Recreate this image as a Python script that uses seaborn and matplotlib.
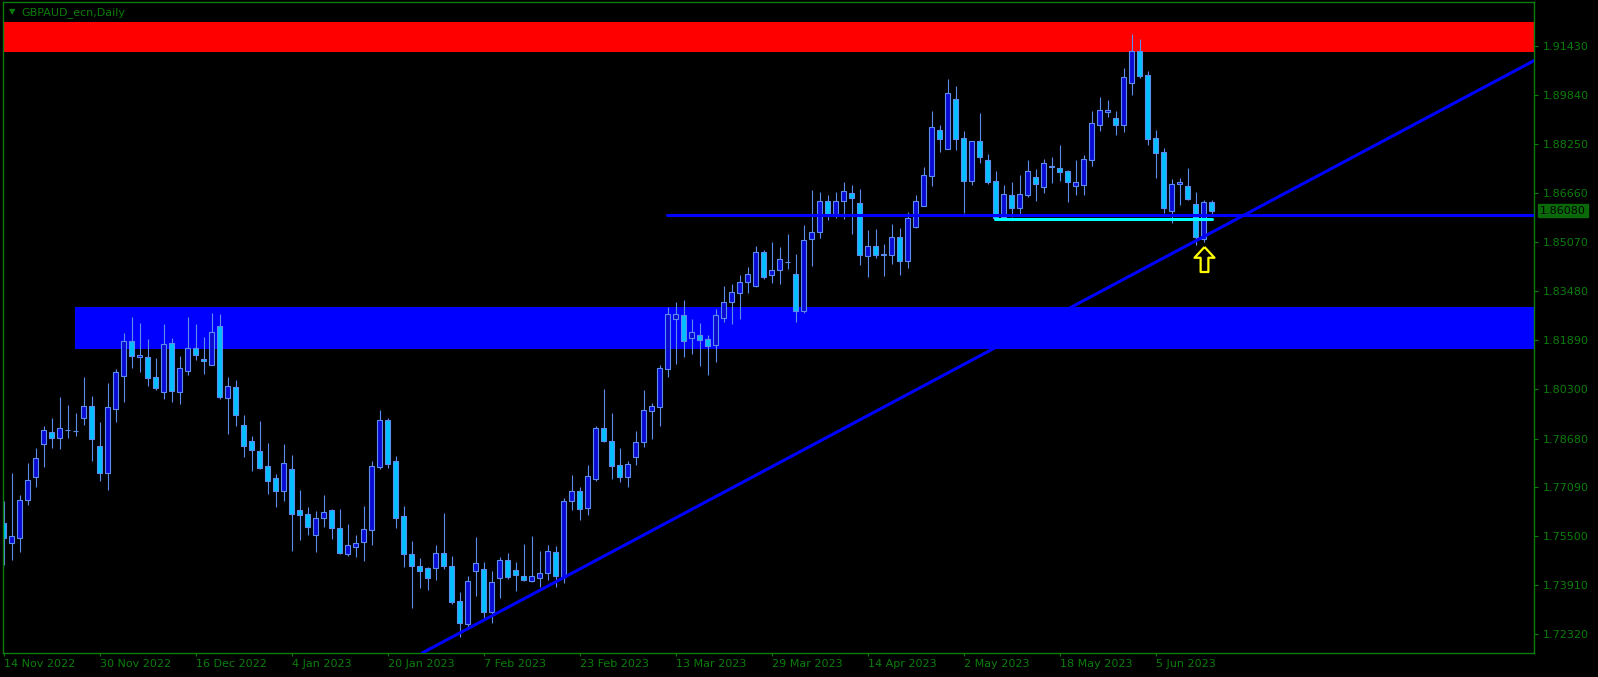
import numpy as np
import pandas as pd
import seaborn as sns
import matplotlib.pyplot as plt
from matplotlib.path import Path

# GBPAUD daily candles, 14 Nov 2022 .. mid Jun 2023
opens = [1.7592, 1.7527, 1.7546, 1.7669, 1.7744, 1.7851, 1.7888, 1.7871, 1.7895, 1.7891,
         1.7936, 1.7973, 1.7843, 1.7757, 1.7965, 1.8072, 1.8184, 1.8134, 1.8132, 1.8067,
         1.8020, 1.8180, 1.8020, 1.8088, 1.8161, 1.8125, 1.8108, 1.8232, 1.8001, 1.8034,
         1.7911, 1.7859, 1.7826, 1.7778, 1.7739, 1.7699, 1.7768, 1.7635, 1.7622, 1.7556,
         1.7611, 1.7635, 1.7576, 1.7494, 1.7517, 1.7533, 1.7572, 1.7777, 1.7927, 1.7794,
         1.7617, 1.7492, 1.7453, 1.7447, 1.7447, 1.7495, 1.7453, 1.7339, 1.7264, 1.7437,
         1.7443, 1.7306, 1.7414, 1.7473, 1.7441, 1.7421, 1.7404, 1.7416, 1.7430, 1.7499,
         1.7418, 1.7664, 1.7697, 1.7642, 1.7738, 1.7901, 1.7860, 1.7781, 1.7744, 1.7809,
         1.7856, 1.7959, 1.7972, 1.8095, 1.8257, 1.8268, 1.8195, 1.8206, 1.8190, 1.8173,
         1.8260, 1.8312, 1.8341, 1.8377, 1.8363, 1.8473, 1.8398, 1.8417, 1.8440, 1.8404,
         1.8283, 1.8515, 1.8538, 1.8641, 1.8596, 1.8641, 1.8665, 1.8632, 1.8460, 1.8495,
         1.8467, 1.8465, 1.8524, 1.8445, 1.8556, 1.8625, 1.8722, 1.8869, 1.8810, 1.8970,
         1.8843, 1.8706, 1.8834, 1.8772, 1.8704, 1.8588, 1.8658, 1.8618, 1.8660, 1.8718,
         1.8686, 1.8753, 1.8746, 1.8736, 1.8689, 1.8692, 1.8774, 1.8887, 1.8930, 1.8911,
         1.8887, 1.9024, 1.9126, 1.9049, 1.8844, 1.8799, 1.8608, 1.8694, 1.8690, 1.8630,
         1.8516, 1.8635]
highs = [1.7665, 1.7756, 1.7684, 1.7788, 1.7837, 1.7909, 1.7935, 1.8003, 1.7977, 1.7951,
         1.8068, 1.8006, 1.7922, 1.8048, 1.8094, 1.8211, 1.8263, 1.8243, 1.8191, 1.8130,
         1.8240, 1.8195, 1.8136, 1.8263, 1.8240, 1.8198, 1.8276, 1.8273, 1.8068, 1.8058,
         1.7944, 1.7876, 1.7925, 1.7853, 1.7753, 1.7850, 1.7814, 1.7701, 1.7645, 1.7632,
         1.7684, 1.7639, 1.7639, 1.7590, 1.7555, 1.7649, 1.7795, 1.7961, 1.7935, 1.7811,
         1.7649, 1.7535, 1.7479, 1.7451, 1.7522, 1.7626, 1.7486, 1.7370, 1.7421, 1.7548,
         1.7467, 1.7438, 1.7483, 1.7496, 1.7467, 1.7526, 1.7552, 1.7503, 1.7522, 1.7518,
         1.7675, 1.7750, 1.7711, 1.7782, 1.7909, 1.8029, 1.7951, 1.7838, 1.7795, 1.7893,
         1.8026, 1.7982, 1.8107, 1.8295, 1.8310, 1.8318, 1.8256, 1.8243, 1.8206, 1.8288,
         1.8363, 1.8369, 1.8398, 1.8425, 1.8492, 1.8479, 1.8506, 1.8490, 1.8534, 1.8467,
         1.8561, 1.8677, 1.8669, 1.8659, 1.8669, 1.8700, 1.8692, 1.8678, 1.8545, 1.8548,
         1.8500, 1.8565, 1.8552, 1.8604, 1.8659, 1.8750, 1.8932, 1.8887, 1.9036, 1.9014,
         1.8867, 1.8834, 1.8926, 1.8793, 1.8737, 1.8692, 1.8702, 1.8724, 1.8773, 1.8744,
         1.8777, 1.8783, 1.8821, 1.8740, 1.8773, 1.8788, 1.8932, 1.8977, 1.8968, 1.8932,
         1.9072, 1.9182, 1.9165, 1.9062, 1.8870, 1.8812, 1.8711, 1.8714, 1.8747, 1.8669,
         1.8643, 1.8643]
lows = [1.7457, 1.7473, 1.7500, 1.7653, 1.7710, 1.7775, 1.7838, 1.7834, 1.7870, 1.7876,
        1.7912, 1.7795, 1.7730, 1.7701, 1.7922, 1.7987, 1.8097, 1.8084, 1.8039, 1.8026,
        1.7996, 1.7987, 1.7980, 1.8074, 1.8123, 1.8078, 1.8106, 1.7996, 1.7883, 1.7909,
        1.7808, 1.7762, 1.7769, 1.7688, 1.7645, 1.7665, 1.7503, 1.7538, 1.7555, 1.7499,
        1.7580, 1.7542, 1.7493, 1.7486, 1.7483, 1.7470, 1.7522, 1.7769, 1.7773, 1.7577,
        1.7449, 1.7316, 1.7384, 1.7377, 1.7407, 1.7444, 1.7332, 1.7222, 1.7257, 1.7357,
        1.7286, 1.7270, 1.7351, 1.7413, 1.7374, 1.7405, 1.7403, 1.7387, 1.7409, 1.7387,
        1.7398, 1.7637, 1.7602, 1.7618, 1.7731, 1.7858, 1.7738, 1.7728, 1.7712, 1.7783,
        1.7841, 1.7868, 1.7910, 1.8069, 1.8110, 1.8132, 1.8143, 1.8104, 1.8075, 1.8117,
        1.8247, 1.8241, 1.8256, 1.8340, 1.8361, 1.8386, 1.8373, 1.8371, 1.8418, 1.8246,
        1.8277, 1.8428, 1.8519, 1.8578, 1.8583, 1.8582, 1.8532, 1.8431, 1.8393, 1.8455,
        1.8397, 1.8436, 1.8399, 1.8422, 1.8553, 1.8624, 1.8690, 1.8800, 1.8808, 1.8807,
        1.8601, 1.8692, 1.8764, 1.8696, 1.8580, 1.8580, 1.8587, 1.8594, 1.8652, 1.8641,
        1.8667, 1.8699, 1.8705, 1.8636, 1.8659, 1.8659, 1.8753, 1.8867, 1.8912, 1.8854,
        1.8864, 1.8985, 1.9040, 1.8821, 1.8715, 1.8602, 1.8569, 1.8626, 1.8643, 1.8496,
        1.8505, 1.8596]
closes = [1.7546, 1.7550, 1.7667, 1.7732, 1.7804, 1.7895, 1.7871, 1.7901, 1.7897, 1.7892,
          1.7973, 1.7867, 1.7757, 1.7969, 1.8083, 1.8184, 1.8137, 1.8141, 1.8066, 1.8033,
          1.8174, 1.8023, 1.8096, 1.8161, 1.8140, 1.8121, 1.8213, 1.8004, 1.8038, 1.7945,
          1.7845, 1.7832, 1.7773, 1.7731, 1.7699, 1.7787, 1.7624, 1.7621, 1.7582, 1.7609,
          1.7628, 1.7578, 1.7496, 1.7523, 1.7527, 1.7573, 1.7778, 1.7927, 1.7786, 1.7611,
          1.7494, 1.7455, 1.7436, 1.7416, 1.7495, 1.7455, 1.7338, 1.7270, 1.7404, 1.7463,
          1.7306, 1.7401, 1.7473, 1.7418, 1.7423, 1.7407, 1.7421, 1.7430, 1.7502, 1.7422,
          1.7664, 1.7697, 1.7640, 1.7746, 1.7901, 1.7861, 1.7780, 1.7744, 1.7785, 1.7856,
          1.7960, 1.7973, 1.8096, 1.8271, 1.8271, 1.8186, 1.8213, 1.8189, 1.8169, 1.8268,
          1.8313, 1.8343, 1.8378, 1.8404, 1.8473, 1.8392, 1.8417, 1.8450, 1.8442, 1.8283,
          1.8512, 1.8538, 1.8641, 1.8596, 1.8641, 1.8671, 1.8650, 1.8464, 1.8495, 1.8465,
          1.8465, 1.8524, 1.8445, 1.8586, 1.8641, 1.8723, 1.8879, 1.8842, 1.8990, 1.8842,
          1.8706, 1.8834, 1.8784, 1.8703, 1.8584, 1.8662, 1.8618, 1.8662, 1.8736, 1.8696,
          1.8762, 1.8750, 1.8735, 1.8702, 1.8700, 1.8775, 1.8892, 1.8937, 1.8937, 1.8887,
          1.9044, 1.9126, 1.9047, 1.8842, 1.8796, 1.8618, 1.8694, 1.8700, 1.8647, 1.8524,
          1.8635, 1.8608]

date_labels = ["14 Nov 2022", "30 Nov 2022", "16 Dec 2022", "4 Jan 2023", "20 Jan 2023",
               "7 Feb 2023", "23 Feb 2023", "13 Mar 2023", "29 Mar 2023", "14 Apr 2023",
               "2 May 2023", "18 May 2023", "5 Jun 2023"]
price_ticks = [1.91430, 1.89840, 1.88250, 1.86660, 1.85070, 1.83480, 1.81890,
               1.80300, 1.78680, 1.77090, 1.75500, 1.73910, 1.72320]

# drawn objects on the chart
red_zone = (1.9125, 1.9222)
blue_zone = (1.8159, 1.8295)
blue_zone_start = 8.9
level_price = 1.8594
level_start = 82.9
support_price = 1.8580
support_span = (123.9, 151.0)
trend_pts = [(57, 1.7236), (149, 1.8510)]
arrow_bar, arrow_price = 150, 1.8450
last_price = 1.86080

GREEN = "#0b7d0b"
WICK = "#5b8ded"
BULL = "#0a0ad2"
BEAR = "#00bfff"

sns.set_theme(style="dark", rc={"axes.facecolor": "black", "figure.facecolor": "black",
                                "axes.grid": False})
plt.rcParams["font.family"] = ["DejaVu Sans"]

df = pd.DataFrame({"open": opens, "high": highs, "low": lows, "close": closes})
df["bar"] = np.arange(len(df))
df["bull"] = df["close"] >= df["open"]

fig = plt.figure(figsize=(15.98, 6.77), dpi=100)
ax = fig.add_axes([2.7 / 1598, 24 / 677, (1534 - 2.7) / 1598, (653 - 2) / 677])

# zones behind the candles
ax.axhspan(*red_zone, color="#ff0000", lw=0, zorder=0)
ax.fill_between([blue_zone_start, 200], blue_zone[0], blue_zone[1], color="#0000ff", lw=0, zorder=0)

# candles
ax.vlines(df["bar"], df["low"], df["high"], color=WICK, lw=0.8, zorder=1)
body_lo = df[["open", "close"]].min(axis=1)
body_h = (df["close"] - df["open"]).abs().clip(lower=0.00008)
ax.bar(df["bar"], body_h, bottom=body_lo, width=0.6,
       color=np.where(df["bull"], BULL, BEAR), edgecolor=WICK, linewidth=0.8, zorder=2)

# lines
lvl = pd.DataFrame({"x": [level_start, 200], "y": [level_price] * 2})
sns.lineplot(data=lvl, x="x", y="y", ax=ax, color="#0000ff", lw=2.2, zorder=3)
sup = pd.DataFrame({"x": list(support_span), "y": [support_price] * 2})
sns.lineplot(data=sup, x="x", y="y", ax=ax, color="#00ffff", lw=2.2, zorder=3)
ax.axline(trend_pts[0], trend_pts[1], color="#0000ff", lw=2.2, zorder=3)

# buy arrow
arrow = Path([(0, 1), (-0.8, 0.14), (-0.31, 0.14), (-0.31, -1), (0.31, -1),
              (0.31, 0.14), (0.8, 0.14), (0, 1)])
ax.plot([arrow_bar], [arrow_price], marker=arrow, markersize=18, mfc="black",
        mec="#ffff00", mew=1.6, zorder=4)

ax.set_xlim(-0.11, 191.3)
ax.set_ylim(1.71712, 1.92863)
ax.set_xlabel("")
ax.set_ylabel("")

ax.set_xticks(12 * np.arange(len(date_labels)))
ax.set_xticklabels(date_labels)
for lab in ax.get_xticklabels():
    lab.set_horizontalalignment("left")
ax.yaxis.tick_right()
ax.set_yticks(price_ticks)
ax.set_yticklabels([f"{p:.5f}" for p in price_ticks])
ax.tick_params(axis="x", colors=GREEN, labelcolor=GREEN, labelsize=8, length=2.5,
               width=0.8, pad=2, direction="out", bottom=True)
ax.tick_params(axis="y", colors=GREEN, labelcolor=GREEN, labelsize=8, length=3,
               width=0.8, pad=3, direction="out", right=True, left=False)
for sp in ax.spines.values():
    sp.set_color(GREEN)
    sp.set_linewidth(1)
    sp.set_visible(True)

# current price tag
ax.annotate(f"{last_price:.5f}", xy=(1, last_price), xycoords=("axes fraction", "data"),
            xytext=(6, 0), textcoords="offset pixels", va="center", ha="left",
            fontsize=8, color="black", annotation_clip=False,
            bbox=dict(boxstyle="square,pad=0.15", fc="#0a6a0a", ec="#0a6a0a"))

fig.text(12 / 1598, 1 - 12 / 677, "\u25bc", color=GREEN, fontsize=6, ha="center", va="center")
fig.text(21.7 / 1598, 1 - 13 / 677, "GBPAUD_ecn,Daily", color=GREEN, fontsize=8,
         ha="left", va="center")

fig.savefig("out.png", dpi=100, facecolor="black")
